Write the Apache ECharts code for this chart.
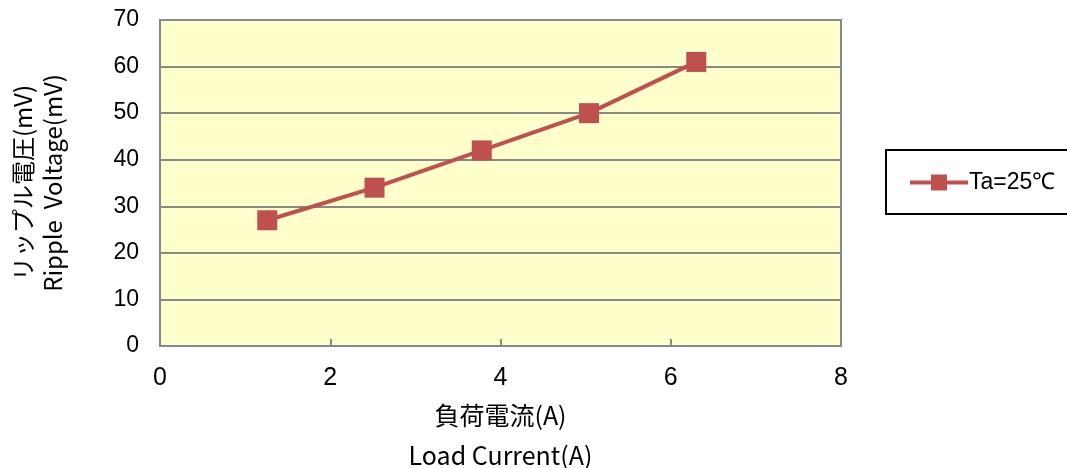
<!DOCTYPE html>
<html>
<head>
<meta charset="utf-8">
<script src="https://cdn.jsdelivr.net/npm/echarts@6/dist/echarts.min.js"></script>
<style>
  html, body { margin: 0; padding: 0; background: #fff; }
  #chart { width: 1067px; height: 468px; }
</style>
</head>
<body>
<div id="chart"></div>
<script>
// Load current (A) vs. output ripple voltage (mV)
const loadCurrent = [1.26, 2.52, 3.78, 5.04, 6.3];
const rippleMv = [27, 34, 42, 50, 61];
const seriesName = 'Ta=25℃';
const xAxisTitle = '負荷電流(A)\nLoad Current(A)';
const yAxisTitle = 'リップル電圧(mV)\nRipple  Voltage(mV)';

const lineColor = '#C0504D';
const gridColor = '#888888';
const labelFont = '"Liberation Sans", Arial, sans-serif';
const narrowFont = '"Liberation Sans Narrow", "Liberation Sans", sans-serif';
const cjkFont = '"Noto Sans CJK JP", "Liberation Sans", sans-serif';

const chart = echarts.init(document.getElementById('chart'));
chart.setOption({
  animation: false,
  backgroundColor: '#ffffff',
  grid: {
    left: 160, right: 226, top: 20, bottom: 122,
    outerBoundsMode: 'none',
    containLabel: false,
    show: true,
    backgroundColor: '#FFFFCC',
    borderColor: gridColor,
    borderWidth: 2
  },
  legend: {
    left: 886, top: 150,
    orient: 'vertical',
    borderColor: '#000',
    borderWidth: 2,
    padding: [21, 80, 20, 22],
    itemWidth: 58, itemHeight: 20,
    itemGap: 0,
    textStyle: { fontFamily: labelFont, fontSize: 23, color: '#000', padding: [0, 0, 0, -4] },
    data: [{ name: seriesName, itemStyle: { color: lineColor }, lineStyle: { width: 4, color: lineColor } }]
  },
  xAxis: {
    type: 'value',
    min: 0, max: 8, interval: 2,
    name: xAxisTitle,
    nameLocation: 'middle',
    nameGap: 47,
    nameTextStyle: { fontFamily: cjkFont, fontSize: 25, color: '#000', lineHeight: 40, verticalAlign: 'top' },
    axisLine: { show: true, lineStyle: { color: gridColor, width: 2 } },
    axisTick: { show: true, inside: true, length: 7, lineStyle: { color: gridColor, width: 2 } },
    axisLabel: { fontFamily: narrowFont, fontSize: 25, color: '#000', margin: 20 },
    splitLine: { show: false }
  },
  yAxis: {
    type: 'value',
    min: 0, max: 70, interval: 10,
    name: yAxisTitle,
    nameLocation: 'middle',
    nameGap: 92,
    nameRotate: 90,
    nameTextStyle: { fontFamily: cjkFont, fontSize: 24, color: '#000', lineHeight: 30 },
    axisLine: { show: true, lineStyle: { color: gridColor, width: 2 } },
    axisTick: { show: false },
    axisLabel: { fontFamily: labelFont, fontSize: 23, color: '#000', margin: 21 },
    splitLine: { show: true, lineStyle: { color: gridColor, width: 2 } }
  },
  series: [{
    name: seriesName,
    type: 'line',
    data: loadCurrent.map((x, i) => [x, rippleMv[i]]),
    symbol: 'rect',
    symbolSize: 20,
    itemStyle: { color: lineColor },
    lineStyle: { color: lineColor, width: 4 }
  }]
});
</script>
</body>
</html>
